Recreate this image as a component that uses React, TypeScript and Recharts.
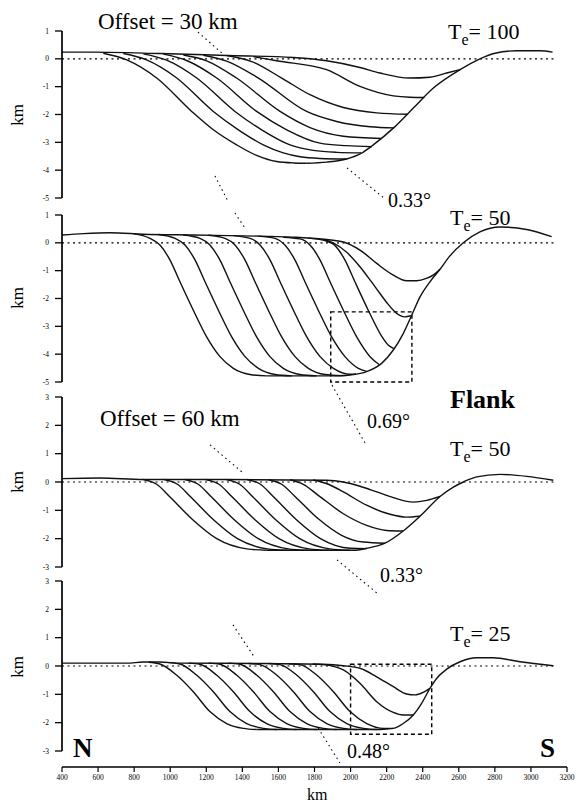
import { LineChart, Line, XAxis, YAxis, ReferenceLine, ReferenceArea } from 'recharts';

type Pt = [number, number];

const serif = '"Liberation Serif", "Times New Roman", serif';

const xTicks = [400, 600, 800, 1000, 1200, 1400, 1600, 1800, 2000, 2200, 2400, 2600, 2800, 3000, 3200];
const deepTicks = [1, 0, -1, -2, -3, -4, -5];
const shallowTicks = [3, 2, 1, 0, -1, -2, -3];

// Te = 100, offset 30 km
const te100Curves: Pt[][] = [
  [[400, 0.24], [574, 0.24], [943, 0.19], [1313, 0.12], [1683, 0.05], [1867, -0.07], [2052, -0.31], [2163, -0.51], [2329, -0.69], [2440, -0.66], [2533, -0.51], [2607, -0.39]],
  [[1461, 0.08], [1590, -0.07], [1867, -0.39], [2052, -0.99], [2237, -1.33], [2329, -1.38], [2409, -1.39]],
  [[1313, 0.12], [1452, -0.1], [1618, -0.69], [1775, -1.29], [1960, -1.75], [2145, -1.94], [2316, -1.99]],
  [[1184, 0.13], [1313, -0.08], [1489, -0.69], [1756, -1.89], [1923, -2.25], [2108, -2.44], [2241, -2.48]],
  [[1073, 0.14], [1202, -0.07], [1368, -0.69], [1609, -1.89], [1775, -2.47], [1960, -2.78], [2170, -2.86]],
  [[962, 0.17], [1091, -0.06], [1258, -0.69], [1479, -1.89], [1646, -2.55], [1830, -3.03], [1978, -3.12], [2117, -3.16]],
  [[851, 0.18], [980, -0.05], [1147, -0.69], [1359, -1.89], [1507, -2.55], [1664, -3.09], [1793, -3.29], [1923, -3.36], [2058, -3.38]],
  [[740, 0.19], [869, -0.04], [1036, -0.69], [1239, -1.89], [1378, -2.55], [1516, -3.09], [1627, -3.38], [1720, -3.52], [1830, -3.58], [1978, -3.6]],
  [[629, 0.2], [759, -0.04], [925, -0.69], [1119, -1.89], [1239, -2.55], [1368, -3.09], [1479, -3.47], [1590, -3.69], [1683, -3.74], [1756, -3.75]],
];
const te100Envelope: Pt[] = [
  [1756, -3.75], [1867, -3.71], [1978, -3.6], [2058, -3.4], [2126, -3.09], [2237, -2.49], [2348, -1.77],
  [2459, -1.05], [2607, -0.39], [2717, 0], [2801, 0.2], [2921, 0.29], [3050, 0.29], [3120, 0.24],
];
const te100Slopes: Pt[][] = [
  [[1154, 0.96], [1298, 0.14]],
  [[1248, -4.21], [1320, -5.11]],
  [[1980, -3.92], [2185, -5.0]],
];

// Te = 50, offset 30 km (flank)
const te50aCurves: Pt[][] = [
  [[400, 0.28], [520, 0.33], [666, 0.36], [851, 0.31], [1128, 0.28], [1498, 0.24], [1700, 0.2], [1867, 0.12], [1960, 0.03], [2052, -0.26], [2145, -0.74], [2237, -1.16], [2311, -1.36], [2366, -1.36], [2420, -1.28], [2460, -1.15], [2496, -0.95]],
  [[1850, 0.12], [1904, 0], [1980, -0.35], [2052, -0.86], [2110, -1.35], [2163, -1.82], [2205, -2.18], [2237, -2.42], [2270, -2.6], [2300, -2.66], [2335, -2.62]],
  [[1765, 0.17], [1858, 0.08], [1913, -0.1], [1969, -0.62], [2024, -1.4], [2098, -2.42], [2172, -3.35], [2210, -3.68], [2240, -3.8]],
  [[1627, 0.2], [1720, 0.14], [1775, -0.08], [1831, -0.62], [1886, -1.4], [1960, -2.42], [2034, -3.38], [2108, -4.09], [2158, -4.37]],
  [[1488, 0.24], [1581, 0.16], [1636, -0.08], [1692, -0.62], [1747, -1.4], [1821, -2.42], [1895, -3.38], [1969, -4.09], [2043, -4.51], [2089, -4.62]],
  [[1350, 0.26], [1443, 0.16], [1498, -0.08], [1554, -0.62], [1609, -1.4], [1683, -2.42], [1757, -3.38], [1831, -4.09], [1905, -4.51], [1997, -4.72], [2030, -4.71]],
  [[1211, 0.27], [1304, 0.16], [1359, -0.08], [1415, -0.62], [1470, -1.4], [1544, -2.42], [1618, -3.38], [1692, -4.09], [1766, -4.51], [1858, -4.73], [1951, -4.77]],
  [[1072, 0.28], [1165, 0.16], [1220, -0.08], [1276, -0.62], [1331, -1.4], [1405, -2.42], [1479, -3.38], [1553, -4.09], [1627, -4.51], [1719, -4.73], [1812, -4.78]],
  [[934, 0.3], [1027, 0.16], [1082, -0.08], [1138, -0.62], [1193, -1.4], [1267, -2.42], [1341, -3.38], [1415, -4.09], [1489, -4.51], [1581, -4.73], [1674, -4.78]],
  [[795, 0.33], [888, 0.16], [943, -0.08], [999, -0.62], [1054, -1.4], [1128, -2.42], [1202, -3.38], [1276, -4.09], [1350, -4.51], [1442, -4.73], [1535, -4.78]],
];
const te50aEnvelope: Pt[] = [
  [1535, -4.78], [1923, -4.78], [1997, -4.75], [2089, -4.63], [2172, -4.33], [2237, -3.85], [2292, -3.26], [2339, -2.6],
  [2385, -1.94], [2440, -1.4], [2496, -0.95], [2551, -0.47], [2625, 0], [2717, 0.39], [2828, 0.57], [2976, 0.48], [3115, 0.22],
];
const te50aSlopes: Pt[][] = [[[1359, 1.07], [1415, 0.53]]];
const te50aBox = { x1: 1890, x2: 2340, y1: -5, y2: -2.48 };

// Te = 50, offset 60 km
const te50bCurves: Pt[][] = [
  [[400, 0.12], [611, 0.14], [851, 0.09], [1313, 0.09], [1867, 0.06], [1960, 0], [2052, -0.15], [2145, -0.35], [2237, -0.55], [2348, -0.71], [2422, -0.65], [2496, -0.51]],
  [[1793, 0.07], [1877, -0.08], [1960, -0.35], [2089, -0.82], [2219, -1.14], [2311, -1.24], [2385, -1.21]],
  [[1664, 0.08], [1738, -0.08], [1821, -0.47], [1960, -1.12], [2089, -1.53], [2200, -1.71], [2292, -1.73]],
  [[1544, 0.08], [1618, -0.08], [1692, -0.51], [1821, -1.3], [1950, -1.88], [2071, -2.12], [2191, -2.16]],
  [[1426, 0.09], [1500, -0.08], [1574, -0.53], [1703, -1.35], [1833, -2.0], [1999, -2.34], [2089, -2.35]],
  [[1311, 0.09], [1385, -0.08], [1459, -0.53], [1588, -1.35], [1718, -2.0], [1884, -2.36], [1995, -2.41]],
  [[1196, 0.09], [1270, -0.08], [1344, -0.53], [1473, -1.35], [1603, -2.0], [1769, -2.36], [1880, -2.41]],
  [[1081, 0.09], [1155, -0.08], [1229, -0.53], [1358, -1.35], [1488, -2.0], [1654, -2.36], [1765, -2.41]],
  [[966, 0.09], [1040, -0.08], [1114, -0.53], [1243, -1.35], [1373, -2.0], [1539, -2.36], [1650, -2.41]],
  [[851, 0.09], [925, -0.08], [999, -0.53], [1128, -1.35], [1258, -2.0], [1424, -2.36], [1535, -2.41]],
];
const te50bEnvelope: Pt[] = [
  [1535, -2.41], [2015, -2.41], [2089, -2.34], [2191, -2.16], [2292, -1.73], [2385, -1.21], [2496, -0.51],
  [2570, -0.18], [2625, 0], [2699, 0.18], [2828, 0.27], [2976, 0.2], [3124, 0.06],
];
const te50bSlopes: Pt[][] = [
  [[1897, 3.42], [2080, 1.38]],
  [[1221, 1.31], [1404, 0.32]],
  [[1925, -2.75], [2152, -3.95]],
];

// Te = 25
const te25Curves: Pt[][] = [
  [[400, 0.1], [760, 0.1], [851, 0.14], [943, 0.14], [1054, 0.1], [1500, 0.09], [1849, 0.06], [1960, 0.01], [2052, -0.08], [2145, -0.38], [2237, -0.73], [2311, -0.99], [2357, -1.02], [2403, -0.93], [2440, -0.79]],
  [[1790, 0.07], [1849, 0.05], [1960, -0.14], [2052, -0.61], [2145, -1.26], [2237, -1.64], [2292, -1.73], [2348, -1.73]],
  [[1657, 0.08], [1720, 0.05], [1812, -0.32], [1905, -0.91], [1997, -1.61], [2090, -2.03], [2182, -2.2], [2237, -2.2]],
  [[1546, 0.09], [1609, 0.05], [1701, -0.32], [1794, -0.91], [1886, -1.61], [1979, -2.03], [2071, -2.2], [2145, -2.24]],
  [[1435, 0.09], [1498, 0.05], [1590, -0.32], [1683, -0.91], [1775, -1.61], [1868, -2.03], [1960, -2.2], [2034, -2.24]],
  [[1324, 0.1], [1387, 0.06], [1479, -0.32], [1572, -0.91], [1664, -1.61], [1757, -2.03], [1849, -2.2], [1923, -2.24]],
  [[1213, 0.1], [1276, 0.06], [1368, -0.32], [1461, -0.91], [1553, -1.61], [1646, -2.03], [1738, -2.2], [1812, -2.24]],
  [[1102, 0.1], [1165, 0.06], [1257, -0.32], [1350, -0.91], [1442, -1.61], [1535, -2.03], [1627, -2.2], [1701, -2.24]],
  [[991, 0.12], [1054, 0.07], [1146, -0.32], [1239, -0.91], [1331, -1.61], [1424, -2.03], [1516, -2.2], [1590, -2.24]],
  [[880, 0.13], [943, 0.07], [1035, -0.32], [1128, -0.91], [1220, -1.61], [1313, -2.03], [1405, -2.2], [1479, -2.24]],
];
const te25Envelope: Pt[] = [
  [1479, -2.24], [2163, -2.24], [2237, -2.2], [2292, -2.03], [2348, -1.73], [2394, -1.32], [2440, -0.79], [2477, -0.44],
  [2533, -0.11], [2607, 0.15], [2699, 0.29], [2791, 0.29], [2939, 0.15], [3124, 0.01],
];
const te25Slopes: Pt[][] = [
  [[1348, 1.45], [1470, 0.28]],
  [[1820, -2.19], [1941, -3.42]],
];
const te25Box = { x1: 2000, x2: 2450, y1: -2.41, y2: 0.06 };

const toRows = (pts: Pt[]) => pts.map(([x, y]) => ({ x, y }));

interface PanelProps {
  top: number;
  height: number;
  mt: number;
  mb: number;
  domain: [number, number];
  ticks: number[];
  curves: Pt[][];
  envelope: Pt[];
  slopes: Pt[][];
  box?: { x1: number; x2: number; y1: number; y2: number };
}

function Panel({ top, height, mt, mb, domain, ticks, curves, envelope, slopes, box }: PanelProps) {
  return (
    <div style={{ position: 'absolute', left: 0, top }}>
      <LineChart width={579} height={height} margin={{ top: mt, right: 12, bottom: mb, left: 12 }}>
        <XAxis type="number" dataKey="x" domain={[400, 3200]} hide allowDataOverflow />
        <YAxis
          type="number"
          domain={domain}
          ticks={ticks}
          interval={0}
          width={50}
          tickSize={7}
          tickMargin={6}
          tick={{ fontSize: 7.5, fill: '#000', fontFamily: serif }}
          tickLine={{ stroke: '#000', strokeWidth: 1.3 }}
          axisLine={{ stroke: '#000', strokeWidth: 1.7 }}
          allowDataOverflow
        />
        <ReferenceLine
          segment={[{ x: 400, y: 0 }, { x: 3130, y: 0 }]}
          stroke="#000"
          strokeWidth={1.2}
          strokeDasharray="2 3.5"
          ifOverflow="visible"
        />
        {slopes.map((s, i) => (
          <ReferenceLine
            key={`s${i}`}
            segment={[{ x: s[0][0], y: s[0][1] }, { x: s[1][0], y: s[1][1] }]}
            stroke="#000"
            strokeWidth={1.1}
            strokeDasharray="1.5 3.5"
            ifOverflow="visible"
          />
        ))}
        {box && (
          <ReferenceArea
            x1={box.x1}
            x2={box.x2}
            y1={box.y1}
            y2={box.y2}
            fill="none"
            fillOpacity={0}
            stroke="#000"
            strokeWidth={1.4}
            strokeDasharray="4 3"
            ifOverflow="visible"
          />
        )}
        {curves.map((c, i) => (
          <Line
            key={`c${i}`}
            data={toRows(c)}
            dataKey="y"
            type="monotone"
            stroke="#111"
            strokeWidth={1.4}
            dot={false}
            activeDot={false}
            isAnimationActive={false}
          />
        ))}
        <Line
          data={toRows(envelope)}
          dataKey="y"
          type="monotone"
          stroke="#111"
          strokeWidth={1.4}
          dot={false}
          activeDot={false}
          isAnimationActive={false}
        />
      </LineChart>
    </div>
  );
}

function Txt({ left, top, size, bold, children }: { left: number; top: number; size: number; bold?: boolean; children: React.ReactNode }) {
  return (
    <div
      style={{
        position: 'absolute',
        left,
        top,
        fontSize: size,
        lineHeight: `${size}px`,
        fontFamily: serif,
        fontWeight: bold ? 'bold' : 'normal',
        whiteSpace: 'nowrap',
        color: '#000',
      }}
    >
      {children}
    </div>
  );
}

function Te({ left, top, value }: { left: number; top: number; value: string }) {
  return (
    <Txt left={left} top={top} size={22}>
      T<span style={{ fontSize: 16, position: 'relative', top: 6 }}>e</span>= {value}
    </Txt>
  );
}

function AxisKm({ y }: { y: number }) {
  return (
    <div
      style={{
        position: 'absolute',
        left: 17,
        top: y,
        transform: 'translate(-50%, -50%) rotate(-90deg)',
        fontSize: 17,
        lineHeight: '17px',
        fontFamily: serif,
        whiteSpace: 'nowrap',
      }}
    >
      km
    </div>
  );
}

export default function App() {
  const axisRows = xTicks.map((x) => ({ x, y: 0 }));
  return (
    <div style={{ position: 'absolute', left: 0, top: 0, width: 579, height: 805, background: '#fff', overflow: 'hidden' }}>
      <Panel top={0} height={215} mt={31} mb={17} domain={[-5, 1]} ticks={deepTicks} curves={te100Curves} envelope={te100Envelope} slopes={te100Slopes} />
      <Panel top={200} height={200} mt={15} mb={18} domain={[-5, 1]} ticks={deepTicks} curves={te50aCurves} envelope={te50aEnvelope} slopes={te50aSlopes} box={te50aBox} />
      <Panel top={383} height={225} mt={14} mb={41} domain={[-3, 3]} ticks={shallowTicks} curves={te50bCurves} envelope={te50bEnvelope} slopes={te50bSlopes} />
      <Panel top={570} height={210} mt={11} mb={29} domain={[-3, 3]} ticks={shallowTicks} curves={te25Curves} envelope={te25Envelope} slopes={te25Slopes} box={te25Box} />

      <div style={{ position: 'absolute', left: 0, top: 740 }}>
        <LineChart width={579} height={65} data={axisRows} margin={{ top: 27, right: 12, bottom: 0, left: 62 }}>
          <XAxis
            type="number"
            dataKey="x"
            domain={[400, 3200]}
            ticks={xTicks}
            interval={0}
            height={38}
            tickSize={5}
            tickMargin={3}
            tick={{ fontSize: 7.5, fill: '#000', fontFamily: serif }}
            tickLine={{ stroke: '#000', strokeWidth: 1.2 }}
            axisLine={{ stroke: '#000', strokeWidth: 1.7 }}
          />
          <YAxis hide domain={[0, 1]} />
          <Line dataKey="y" stroke="none" dot={false} activeDot={false} isAnimationActive={false} />
        </LineChart>
      </div>

      <AxisKm y={115} />
      <AxisKm y={298} />
      <AxisKm y={482} />
      <AxisKm y={667} />

      <Txt left={98} top={10} size={23}>Offset = 30 km</Txt>
      <Te left={448} top={21} value="100" />
      <Txt left={388} top={190} size={20}>0.33°</Txt>
      <Te left={450} top={207} value="50" />
      <Txt left={450} top={387} size={26} bold>Flank</Txt>
      <Txt left={100} top={407} size={23}>Offset = 60 km</Txt>
      <Txt left={367} top={411} size={20}>0.69°</Txt>
      <Te left={450} top={438} value="50" />
      <Txt left={380} top={565} size={20}>0.33°</Txt>
      <Te left={450} top={623} value="25" />
      <Txt left={73} top={735} size={27} bold>N</Txt>
      <Txt left={540} top={735} size={27} bold>S</Txt>
      <Txt left={347} top={741} size={20}>0.48°</Txt>
      <Txt left={307} top={787} size={16}>km</Txt>
    </div>
  );
}
